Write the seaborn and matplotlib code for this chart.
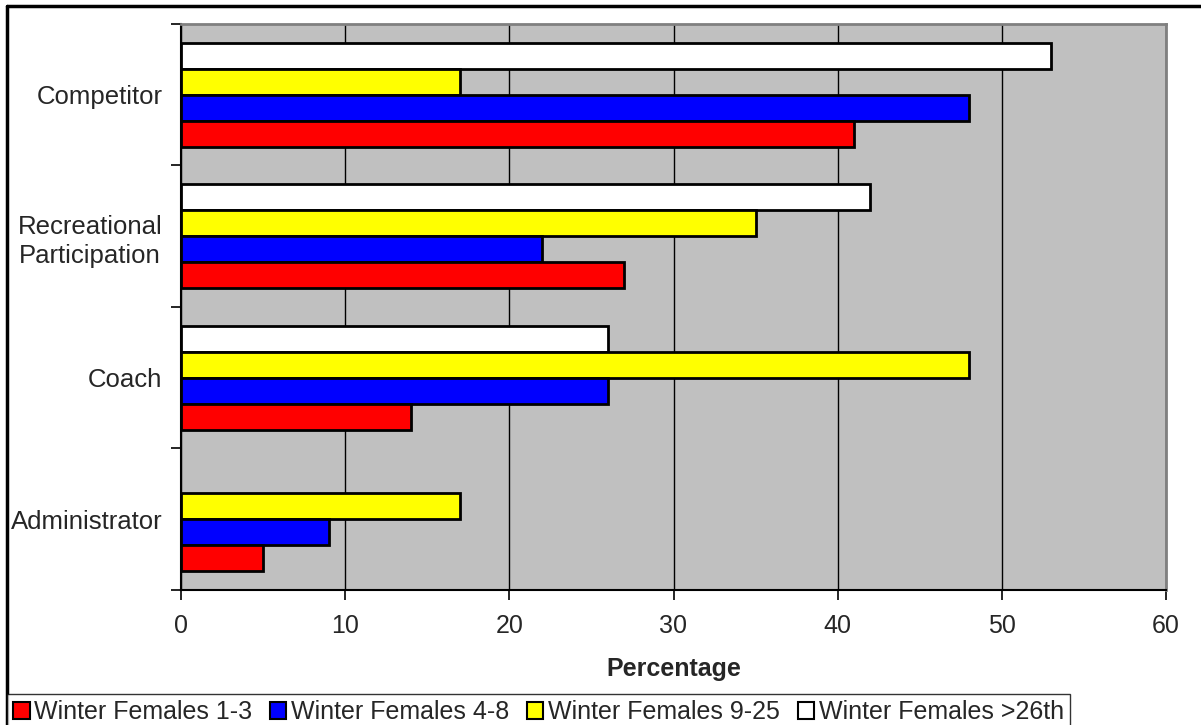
import matplotlib
matplotlib.use("Agg")
import matplotlib.pyplot as plt
from matplotlib.patches import Patch
from matplotlib.lines import Line2D
from matplotlib.ticker import FixedLocator, NullFormatter
import numpy as np
import pandas as pd
import seaborn as sns

# Survey data: share (%) of each role by group
roles = ["Competitor", "Recreational\nParticipation", "Coach", "Administrator"]
groups = ["Winter Females 1-3", "Winter Females 4-8",
          "Winter Females 9-25", "Winter Females >26th"]
females_1_3 = [41, 27, 14, 5]
females_4_8 = [48, 22, 26, 9]
females_9_25 = [17, 35, 48, 17]
females_26th = [53, 42, 26, np.nan]
colors = ["#FF0000", "#0000FF", "#FFFF00", "#FFFFFF"]
x_ticks = [0, 10, 20, 30, 40, 50, 60]

series = [females_1_3, females_4_8, females_9_25, females_26th]
df = pd.DataFrame(
    [(r, g, v) for g, vals in zip(groups, series) for r, v in zip(roles, vals)],
    columns=["role", "group", "pct"],
)

sns.set_style("white")
plt.rcParams["font.family"] = ["Liberation Sans", "DejaVu Sans"]
FS = 18.5
FS_X = 18
FS_LEG = 18

W, H = 1201, 725
fig = plt.figure(figsize=(W / 100, H / 100), dpi=100)
ax = fig.add_axes([181 / W, 1 - 590 / H, (1166 - 181) / W, (590 - 24) / H])
ax.set_facecolor("#C0C0C0")

# last group drawn at top of each band, first at bottom
order_hue = groups[::-1]
palette = dict(zip(groups, colors))
sns.barplot(data=df, y="role", x="pct", hue="group", order=roles,
            hue_order=order_hue, palette=palette, orient="h",
            width=0.735, saturation=1, edgecolor="black", linewidth=2,
            legend=False, ax=ax, zorder=3)

ax.set_xlim(0, 60)
ax.set_ylim(3.5, -0.5)
ax.set_xticks(x_ticks)
ax.set_xticklabels([str(t) for t in x_ticks], fontsize=FS_X)
ax.xaxis.grid(True, color="black", linewidth=1)
ax.set_axisbelow(True)

# category boundaries get tick marks; labels sit at band centers
ax.yaxis.set_major_locator(FixedLocator([-0.5, 0.5, 1.5, 2.5, 3.5]))
ax.yaxis.set_major_formatter(NullFormatter())
ax.yaxis.set_minor_locator(FixedLocator([0, 1, 2, 3]))
ax.set_yticklabels(roles, minor=True, fontsize=FS, multialignment="center",
                   linespacing=1.3)
ax.tick_params(axis="y", which="major", direction="out", length=7, width=1.2,
               color="black", left=True)
ax.tick_params(axis="y", which="minor", length=0, pad=13.5)
ax.tick_params(axis="x", direction="out", length=7, width=1.2, color="black",
               bottom=True, pad=10)
ax.set_ylabel("")
ax.set_xlabel("Percentage", fontsize=FS_X, fontweight="bold", labelpad=14)

for side in ("left", "bottom"):
    ax.spines[side].set_color("black")
    ax.spines[side].set_linewidth(1.5)
for side in ("top", "right"):
    ax.spines[side].set_color("#808080")
    ax.spines[side].set_linewidth(2)

# chart frame (top and left edges)
fig.add_artist(Line2D([7 / W, 1.0], [1 - 6 / H, 1 - 6 / H], color="black",
                      linewidth=2.5, transform=fig.transFigure))
fig.add_artist(Line2D([7 / W, 7 / W], [0.0, 1 - 6 / H], color="black",
                      linewidth=2.5, transform=fig.transFigure))

handles = [Patch(facecolor=c, edgecolor="black", linewidth=1.5) for c in colors]
leg = fig.legend(handles, groups, ncol=4, loc="upper left",
                 bbox_to_anchor=(7 / W, 1 - 694 / H), fontsize=FS_LEG,
                 frameon=True, fancybox=False, borderpad=0.25,
                 handlelength=0.65, handleheight=0.65, handletextpad=0.2,
                 columnspacing=0.7, borderaxespad=0)
leg.get_frame().set_edgecolor("black")
leg.get_frame().set_linewidth(1)

fig.savefig("out.png", dpi=100)
